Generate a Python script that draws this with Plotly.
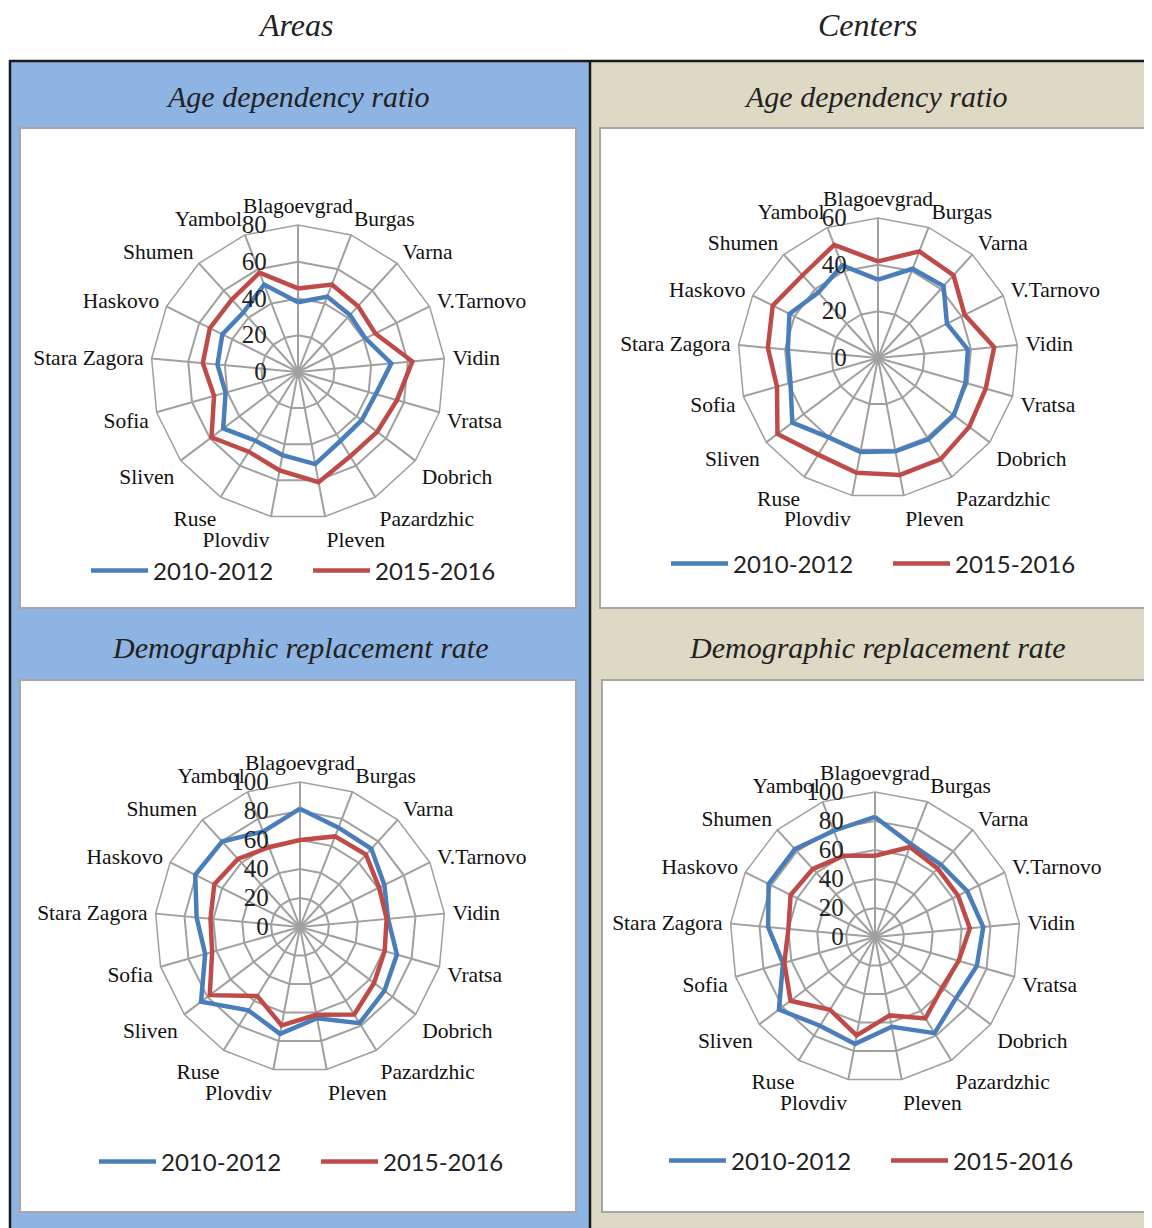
import plotly.graph_objects as go

# page is offset by the browser's default 8px body margin
OFF = 8
W, H = 1152 - 2 * OFF, 1228 - OFF

categories = ["Blagoevgrad", "Burgas", "Varna", "V.Tarnovo", "Vidin", "Vratsa", "Dobrich",
              "Pazardzhic", "Pleven", "Plovdiv", "Ruse", "Sliven", "Sofia", "Stara Zagora",
              "Haskovo", "Shumen", "Yambol"]

series_names = ["2010-2012", "2015-2016"]

# Areas - Age dependency ratio
areas_age_2010 = [38, 44, 42, 41, 51, 44, 43.5, 44, 51, 46, 44, 51, 41, 44, 46, 44, 51]
areas_age_2015 = [45.5, 51, 48.5, 47, 62.5, 56, 54, 54, 61, 54.5, 51, 59, 47.5, 52, 53.6, 53.4, 58]

# Centers - Age dependency ratio
centers_age_2010 = [33.6, 41, 41.7, 33, 38.7, 39, 40.7, 41, 40.7, 41, 40, 46, 39, 38.8, 42.4, 38, 42.5]
centers_age_2015 = [41.4, 49, 48, 41.5, 50, 48, 49, 51, 51, 50, 48.7, 54, 45, 47.4, 50.4, 48, 52]

# Areas - Demographic replacement rate
areas_rep_2010 = [81.6, 73.5, 73, 65, 61, 69.5, 73, 78, 64, 75, 67.6, 85.5, 68, 71.6, 80.7, 79.7, 70.6]
areas_rep_2015 = [60, 67, 67.5, 61, 60, 60.7, 64, 71, 61.6, 69, 56, 78, 63, 62, 66, 63.5, 59]

# Centers - Demographic replacement rate
centers_rep_2010 = [82.8, 68.7, 67.5, 71, 75, 73, 70, 78, 63, 75, 72, 83, 66, 74, 82, 82, 78.6]
centers_rep_2015 = [56, 66.6, 64, 64, 65.7, 60, 58, 66, 55, 69, 59, 73, 65, 60, 65, 63.6, 60]

radial_max = [80, 60, 100, 100]
panel_titles = ["Age dependency ratio", "Age dependency ratio",
                "Demographic replacement rate", "Demographic replacement rate"]
column_titles = ["Areas", "Centers"]

BLUE = "#4A7EBB"
RED = "#BE4B48"
SERIF = "Liberation Serif, Times New Roman, serif"
SANS = "Lato, Carlito, Calibri, sans-serif"


def fx(x):
    return (x - OFF) / W


def fy(y):
    return 1 - (y - OFF) / H


data_sets = [
    (areas_age_2010, areas_age_2015),
    (centers_age_2010, centers_age_2015),
    (areas_rep_2010, areas_rep_2015),
    (centers_rep_2010, centers_rep_2015),
]

# geometry (reference pixels): center x, center y, radius
geom = [(298, 372, 147), (878, 358, 140), (300, 927, 145), (875, 937, 145)]
# legend left x, center y
legend_pos = [(86, 571), (666, 564), (94, 1162), (664, 1161)]

fig = go.Figure()
theta = categories + categories[:1]

for i, (s1, s2) in enumerate(data_sets):
    polar_id = "polar" if i == 0 else f"polar{i+1}"
    legend_id = "legend" if i == 0 else f"legend{i+1}"
    for name, vals, col in [(series_names[0], s1, BLUE), (series_names[1], s2, RED)]:
        fig.add_trace(go.Scatterpolar(
            r=list(vals) + [vals[0]], theta=theta, mode="lines", name=name,
            line=dict(color=col, width=4.5), subplot=polar_id, legend=legend_id,
            hoverinfo="r+theta+name",
        ))
    cx, cy, R = geom[i]
    polar = dict(
        domain=dict(x=[fx(cx - R), fx(cx + R)], y=[fy(cy + R), fy(cy - R)]),
        bgcolor="white",
        gridshape="linear",
        angularaxis=dict(
            direction="clockwise", rotation=90, type="category",
            categoryorder="array", categoryarray=categories,
            showline=True, linecolor="#A0A0A0", linewidth=1.5,
            gridcolor="#A0A0A0", gridwidth=1.5,
            ticks="outside", ticklen=3, tickcolor="rgba(0,0,0,0)",
            tickfont=dict(family=SERIF, size=21.5, color="#111"),
        ),
        radialaxis=dict(
            range=[0, radial_max[i]], dtick=20, angle=90, tickangle=90,
            side="counterclockwise", showline=False,
            ticks="outside", ticklen=22, tickcolor="rgba(0,0,0,0)",
            gridcolor="#A0A0A0", gridwidth=1.5,
            tickfont=dict(family=SERIF, size=25, color="#222"),
        ),
    )
    fig.update_layout(**{polar_id: polar})
    lx, ly = legend_pos[i]
    fig.update_layout(**{legend_id: dict(
        orientation="h", x=fx(lx), y=fy(ly), xanchor="left", yanchor="middle",
        font=dict(family=SANS, size=24, color="#222"), bgcolor="rgba(0,0,0,0)",
        entrywidth=150, itemwidth=57,
    )})

shapes = []
# panel backgrounds
shapes.append(dict(type="rect", xref="paper", yref="paper", x0=fx(10), x1=fx(1160),
                   y0=fy(1240), y1=fy(61), fillcolor="#DDD9C4", line=dict(width=0), layer="below"))
shapes.append(dict(type="rect", xref="paper", yref="paper", x0=fx(10), x1=fx(590),
                   y0=fy(1240), y1=fy(61), fillcolor="#8EB4E3", line=dict(width=0), layer="below"))
# white boxes
boxes = [(20, 128, 576, 608), (600, 128, 1150, 608), (20, 680, 576, 1212), (602, 680, 1148, 1212)]
for x0, y0, x1, y1 in boxes:
    shapes.append(dict(type="rect", xref="paper", yref="paper", x0=fx(x0), x1=fx(x1),
                       y0=fy(y1), y1=fy(y0), fillcolor="white",
                       line=dict(color="#A6A6A6", width=2), layer="below"))
# black frame lines
for (x0, y0, x1, y1) in [(9, 61, 1160, 61), (10, 60, 10, 1240), (590, 60, 590, 1240)]:
    shapes.append(dict(type="line", xref="paper", yref="paper", x0=fx(x0), x1=fx(x1),
                       y0=fy(y0), y1=fy(y1), line=dict(color="#1A1A1A", width=2.5)))

annotations = []
for txt, x, y in [(column_titles[0], 295, 25), (column_titles[1], 868, 25)]:
    annotations.append(dict(text=txt, x=fx(x), y=fy(y), xref="paper", yref="paper",
                            showarrow=False, xanchor="center", yanchor="middle",
                            font=dict(family=SERIF, size=32, color="#222", style="italic")))
for txt, (x, y) in zip(panel_titles, [(298, 97), (876, 97), (300, 647), (877, 647)]):
    annotations.append(dict(text=txt, x=fx(x), y=fy(y), xref="paper", yref="paper",
                            showarrow=False, xanchor="center", yanchor="middle",
                            font=dict(family=SERIF, size=30, color="#222", style="italic")))

fig.update_layout(
    width=W, height=H, margin=dict(l=0, r=0, t=0, b=0),
    paper_bgcolor="white", plot_bgcolor="white",
    shapes=shapes, annotations=annotations, showlegend=True,
)

fig.write_html("out.html")
